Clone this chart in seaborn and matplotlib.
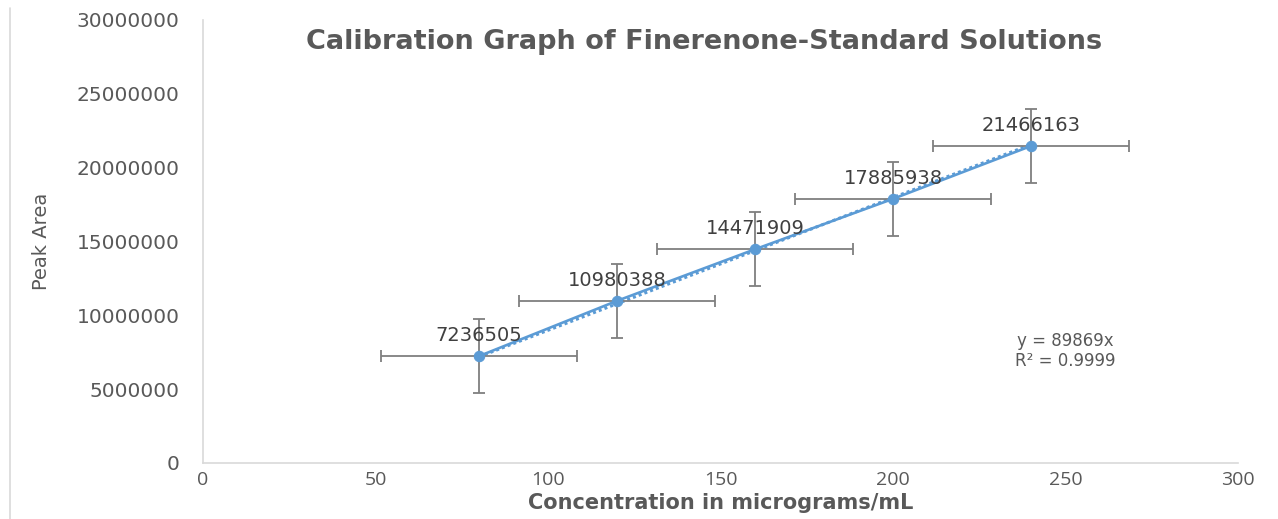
import numpy as np
import pandas as pd
import seaborn as sns
import matplotlib.pyplot as plt
from matplotlib.lines import Line2D

# values
concentration = [80, 120, 160, 200, 240]
peak_area = [7236505, 10980388, 14471909, 17885938, 21466163]
x_error = 28.5
y_error = 2500000
x_ticks = [0, 50, 100, 150, 200, 250, 300]
y_ticks = [0, 5000000, 10000000, 15000000, 20000000, 25000000, 30000000]

df = pd.DataFrame({'conc': concentration, 'area': peak_area})

sns.set_style('white')
plt.rcParams['font.family'] = ['DejaVu Sans']

blue = '#5B9BD5'
grey = '#595959'

fig = plt.figure(figsize=(12.78, 5.19), dpi=100)
ax = fig.add_axes([0.1588, 0.1079, 0.8099, 0.8536])

# linear trendline through the origin (Excel style, uncentred R²)
x = np.array(concentration, dtype=float)
y = np.array(peak_area, dtype=float)
slope = (x * y).sum() / (x * x).sum()
r2 = 1 - ((y - slope * x) ** 2).sum() / (y ** 2).sum()
ax.plot(x, slope * x, color=blue, lw=2.2, ls=(0, (1, 1)), zorder=2)

ax.errorbar(df['conc'], df['area'], xerr=x_error, yerr=y_error, fmt='none',
            ecolor='#7F7F7F', elinewidth=1.3, capsize=4, capthick=1.3, zorder=3)

sns.lineplot(data=df, x='conc', y='area', ax=ax, color=blue, lw=1.9,
             marker='o', markersize=7.5, markeredgecolor=blue, zorder=4)

for cx, cy in zip(concentration, peak_area):
    ax.annotate(str(cy), (cx, cy), xytext=(0, 15), textcoords='offset points',
                ha='center', va='center', fontsize=14, color='#404040',
                family=['DejaVu Sans'], zorder=5)

ax.text(250, 8250000, f'y = {slope:.0f}x', ha='center', va='center',
        fontsize=12, color=grey, family=['DejaVu Sans'])
ax.text(250, 6900000, f'R² = {r2:.4f}', ha='center', va='center',
        fontsize=12, color=grey, family=['DejaVu Sans'])

ax.set_xlim(0, 300)
ax.set_ylim(0, 30000000)
ax.set_xticks(x_ticks)
ax.set_yticks(y_ticks)
ax.set_yticklabels([str(v) for v in y_ticks], fontsize=14.5, color=grey,
                   family=['DejaVu Sans'])
ax.set_xticklabels([str(v) for v in x_ticks], fontsize=14, color=grey,
                   family=['Open Sans', 'DejaVu Sans'])
ax.tick_params(axis='y', length=0, pad=17)
ax.tick_params(axis='x', length=0, pad=6)

for side in ['top', 'right']:
    ax.spines[side].set_visible(False)
for side in ['left', 'bottom']:
    ax.spines[side].set_color('#D9D9D9')
    ax.spines[side].set_linewidth(1.2)

ax.set_title('Calibration Graph of Finerenone-Standard Solutions', fontsize=19.5,
             fontweight='bold', color=grey, family=['DejaVu Sans'],
             x=0.484, y=0.915)
ax.set_xlabel('Concentration in micrograms/mL', fontsize=15, fontweight='bold',
              color=grey, family=['DejaVu Sans'], labelpad=3)
ax.set_ylabel('Peak Area', fontsize=14, color=grey,
              family=['Liberation Sans Narrow', 'DejaVu Sans'], labelpad=18)

# chart frame edge on the left
fig.add_artist(Line2D([0.0075, 0.0075], [0.0, 0.985], color='#D9D9D9', lw=1.2,
                      transform=fig.transFigure))

fig.savefig('out.png', dpi=100)
